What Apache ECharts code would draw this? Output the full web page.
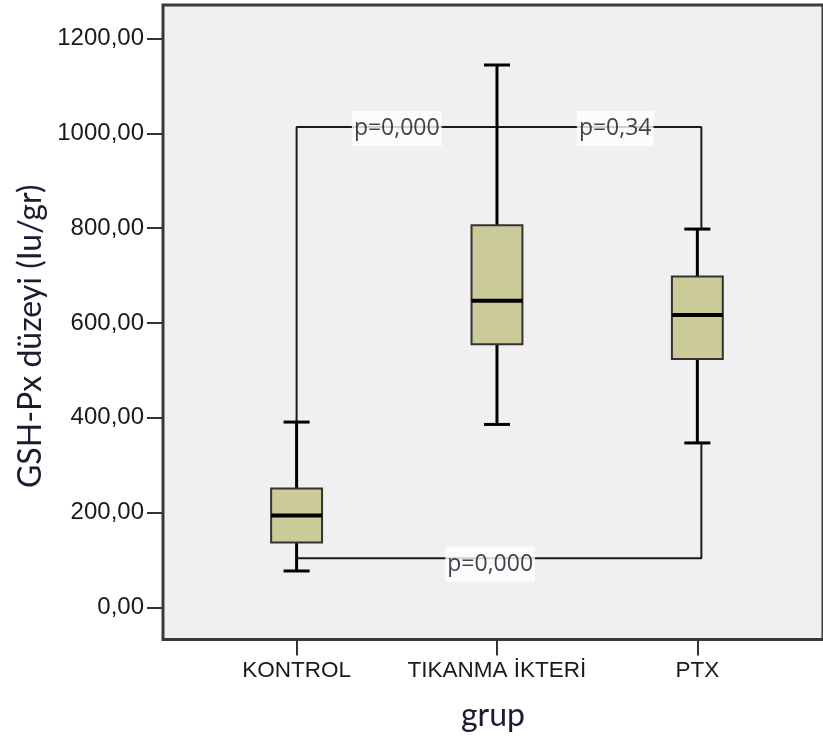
<!DOCTYPE html>
<html>
<head>
<meta charset="utf-8">
<script src="https://cdn.jsdelivr.net/npm/echarts@6/dist/echarts.min.js"></script>
<style>
  html, body { margin: 0; padding: 0; background: #ffffff; }
  #chart { width: 823px; height: 742px; }
</style>
</head>
<body>
<div id="chart"></div>
<script>
// groups and box statistics
var categories = ['KONTROL', 'TIKANMA İKTERİ', 'PTX'];
var whiskerLow = [77, 386, 347];
var q1 = [137, 555, 524];
var median = [194, 647, 617];
var q3 = [251, 806, 698];
var whiskerHigh = [391, 1144, 798];

var yTicks = [0, 200, 400, 600, 800, 1000, 1200];

// comparison brackets
var topBracketY = 1013;
var bottomBracketY = 104;
var bracketRightX = 2.02;
var pLabels = [
    { text: 'p=0,000', x: 0.5, y: 1010 },
    { text: 'p=0,34', x: 1.59, y: 1010 },
    { text: 'p=0,000', x: 0.966, y: 91 }
];

var boxData = categories.map(function (c, i) {
    return [i, whiskerLow[i], q1[i], median[i], q3[i], whiskerHigh[i]];
});

var topBracket = [
    [0, whiskerHigh[0]], [0, topBracketY],
    [bracketRightX, topBracketY], [bracketRightX, whiskerHigh[2]]
];
var bottomBracket = [
    [0, bottomBracketY],
    [bracketRightX, bottomBracketY], [bracketRightX, whiskerLow[2]]
];

var myChart = echarts.init(document.getElementById('chart'), null, { renderer: 'canvas' });

function renderBox(params, api) {
    var x = api.value(0);
    var pLow = api.coord([x, api.value(1)]);
    var pQ1 = api.coord([x, api.value(2)]);
    var pMed = api.coord([x, api.value(3)]);
    var pQ3 = api.coord([x, api.value(4)]);
    var pHigh = api.coord([x, api.value(5)]);
    var bw = api.size([0.254, 0])[0];
    var cw = api.size([0.13, 0])[0];
    var cx = pMed[0];
    var lineStyle = { stroke: '#000', lineWidth: 3 };
    return {
        type: 'group',
        children: [
            { type: 'line', shape: { x1: cx, y1: pLow[1], x2: cx, y2: pQ1[1] }, style: lineStyle },
            { type: 'line', shape: { x1: cx, y1: pQ3[1], x2: cx, y2: pHigh[1] }, style: lineStyle },
            { type: 'line', shape: { x1: cx - cw / 2, y1: pLow[1], x2: cx + cw / 2, y2: pLow[1] }, style: lineStyle },
            { type: 'line', shape: { x1: cx - cw / 2, y1: pHigh[1], x2: cx + cw / 2, y2: pHigh[1] }, style: lineStyle },
            {
                type: 'rect',
                shape: { x: cx - bw / 2, y: pQ3[1], width: bw, height: pQ1[1] - pQ3[1] },
                style: { fill: '#cbcb99', stroke: '#333', lineWidth: 2 }
            },
            { type: 'line', shape: { x1: cx - bw / 2, y1: pMed[1], x2: cx + bw / 2, y2: pMed[1] }, style: { stroke: '#000', lineWidth: 4 } }
        ]
    };
}

var option = {
    animation: false,
    backgroundColor: '#ffffff',
    grid: {
        left: 163,
        right: -2,
        top: 5,
        bottom: 102.5,
        show: true,
        backgroundColor: '#f0f0f0',
        borderColor: '#3a3a3a',
        borderWidth: 3
    },
    xAxis: {
        type: 'value',
        min: -0.6667,
        max: 2.627,
        name: 'grup',
        nameLocation: 'middle',
        nameGap: 60,
        nameTextStyle: { fontFamily: 'Lato', fontSize: 32, color: '#1c1c30' },
        axisLine: { show: false, onZero: false },
        splitLine: { show: false },
        axisTick: {
            show: true, length: 16, customValues: [0, 1, 2],
            lineStyle: { color: '#333', width: 2 }
        },
        axisLabel: {
            customValues: [0, 1, 2],
            margin: 20,
            fontFamily: 'Liberation Sans',
            fontSize: 22.5,
            color: '#1a1a1a',
            formatter: function (v) { return categories[Math.round(v)]; }
        }
    },
    yAxis: {
        type: 'value',
        min: -67.5,
        max: 1270.5,
        name: 'GSH-Px düzeyi (Iu/gr)',
        nameLocation: 'middle',
        nameGap: 112,
        nameTextStyle: {
            fontFamily: 'Lato', fontSize: 32, color: '#1c1c30',
            padding: [0, 28, 0, 0]
        },
        axisLine: { show: false, onZero: false },
        splitLine: { show: false },
        axisTick: {
            show: true, length: 16, customValues: yTicks,
            lineStyle: { color: '#333', width: 2 }
        },
        axisLabel: {
            customValues: yTicks,
            margin: 19,
            fontFamily: 'Liberation Sans',
            fontSize: 24,
            color: '#1a1a1a',
            formatter: function (v) { return v.toFixed(2).replace('.', ','); }
        }
    },
    series: [
        {
            type: 'line',
            data: topBracket,
            symbol: 'none',
            lineStyle: { color: '#1a1a1a', width: 2 },
            z: 1
        },
        {
            type: 'line',
            data: bottomBracket,
            symbol: 'none',
            lineStyle: { color: '#1a1a1a', width: 2 },
            z: 1
        },
        {
            type: 'custom',
            renderItem: renderBox,
            data: boxData,
            z: 2
        },
        {
            type: 'scatter',
            symbolSize: 1,
            itemStyle: { color: 'rgba(0,0,0,0)' },
            data: pLabels.map(function (p) { return { value: [p.x, p.y], name: p.text }; }),
            label: {
                show: true,
                position: 'inside',
                formatter: '{b}',
                fontFamily: 'Open Sans',
                fontSize: 23,
                lineHeight: 23,
                color: '#111122',
                backgroundColor: '#ffffff',
                padding: [6, 2]
            },
            z: 3
        }
    ]
};

myChart.setOption(option);
</script>
</body>
</html>
